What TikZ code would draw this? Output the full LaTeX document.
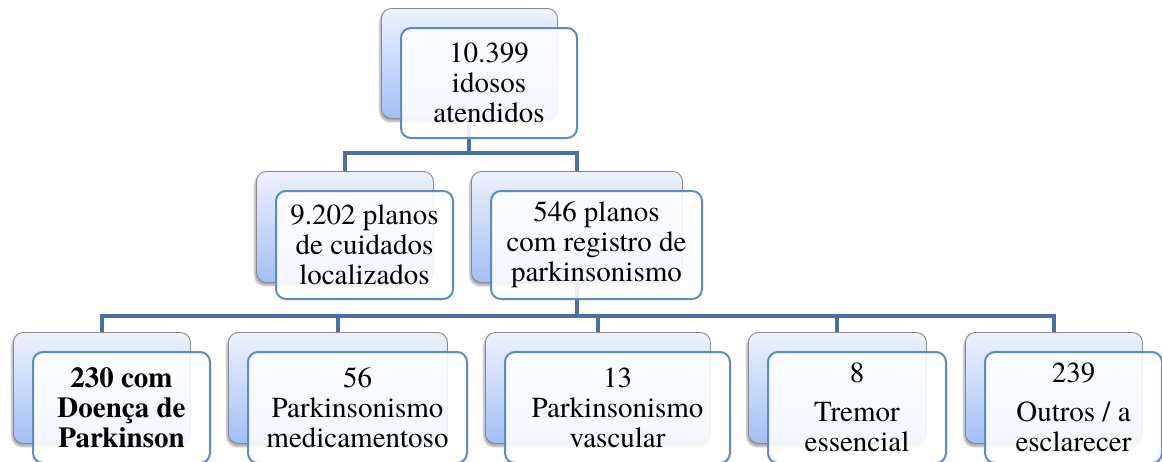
\documentclass[tikz,border=0pt]{standalone}
\usepackage{fontspec}
\IfFontExistsTF{texgyretermes-regular.otf}{%
  \setmainfont{texgyretermes}[Extension=.otf, UprightFont=*-regular, BoldFont=*-bold, ItalicFont=*-italic, BoldItalicFont=*-bolditalic]%
}{%
  \setmainfont{Liberation Serif}%
}
\usetikzlibrary{shadows.blur}
\definecolor{backtop}{HTML}{EDF2FD}
\definecolor{backbot}{HTML}{A2BFF6}
\definecolor{backedge}{HTML}{8A8A8A}
\definecolor{frontedge}{HTML}{5B8BC9}
\definecolor{conncol}{HTML}{4A6FA5}
\tikzset{
  backbox/.style={rectangle, rounded corners=10pt, draw=backedge, line width=0.9pt,
    top color=backtop, bottom color=backbot, anchor=north west, inner sep=0pt,
    blur shadow={shadow xshift=-1.5pt, shadow yshift=-3pt, shadow blur steps=6, shadow opacity=35}},
  frontbox/.style={rectangle, rounded corners=10pt, draw=frontedge, line width=2pt,
    fill=white, fill opacity=0.88, text opacity=1, anchor=north west, inner sep=0pt,
    align=center, font=\rmfamily\fontsize{29}{30}\selectfont},
  conn/.style={draw=conncol, line width=4pt},
}
\begin{document}
\begin{tikzpicture}[x=1pt,y=-1pt]
\useasboundingbox (0,0) rectangle (1162,461);
% back boxes
\node[backbox, minimum width=176pt, minimum height=110pt] (b0) at (381,8) {};
\node[backbox, minimum width=177pt, minimum height=111pt] (b1) at (256,171) {};
\node[backbox, minimum width=211pt, minimum height=111pt] (b2) at (471,171) {};
\node[backbox, minimum width=177pt, minimum height=111pt] (b3) at (13,332) {};
\node[backbox, minimum width=219pt, minimum height=111pt] (b4) at (228,332) {};
\node[backbox, minimum width=225pt, minimum height=111pt] (b5) at (485,332) {};
\node[backbox, minimum width=178pt, minimum height=111pt] (b6) at (748,332) {};
\node[backbox, minimum width=177pt, minimum height=111pt] (b7) at (965,332) {};
% connectors
\coordinate (j1) at (0,153);
\coordinate (j2) at (0,316);
\draw[conn] (b0.south) -- (b0.south |- j1) -| (b1.north);
\draw[conn] (b0.south |- j1) -| (b2.north);
\draw[conn] (b2.south) -- (b2.south |- j2) -| (b3.north);
\draw[conn] (b2.south |- j2) -| (b7.north);
\draw[conn] (b4.north) -- (b4.north |- j2);
\draw[conn] (b5.north) -- (b5.north |- j2);
\draw[conn] (b6.north) -- (b6.north |- j2);
% front boxes
\node[frontbox, minimum width=176pt, minimum height=110pt] (f0) at (400,27) {10.399\\idosos\\atendidos};
\node[frontbox, minimum width=177pt, minimum height=108pt] (f1) at (275,190) {9.202 planos\\de cuidados\\localizados};
\node[frontbox, minimum width=211pt, minimum height=108pt] (f2) at (490,190) {546 planos\\com registro de\\parkinsonismo};
\node[frontbox, minimum width=177pt, minimum height=111pt, font=\rmfamily\fontsize{29}{30}\selectfont\bfseries] (f3) at (32,351) {230 com\\Doença de\\Parkinson};
\node[frontbox, minimum width=219pt, minimum height=111pt] (f4) at (247,351) {56\\Parkinsonismo\\medicamentoso};
\node[frontbox, minimum width=225pt, minimum height=111pt] (f5) at (504,351) {13\\Parkinsonismo\\vascular};
\node[frontbox, minimum width=178pt, minimum height=111pt] (f6) at (767,351) {8\\[9pt]Tremor\\essencial};
\node[frontbox, minimum width=177pt, minimum height=111pt] (f7) at (984,351) {239\\[9pt]Outros / a\\esclarecer};
\end{tikzpicture}
\end{document}
